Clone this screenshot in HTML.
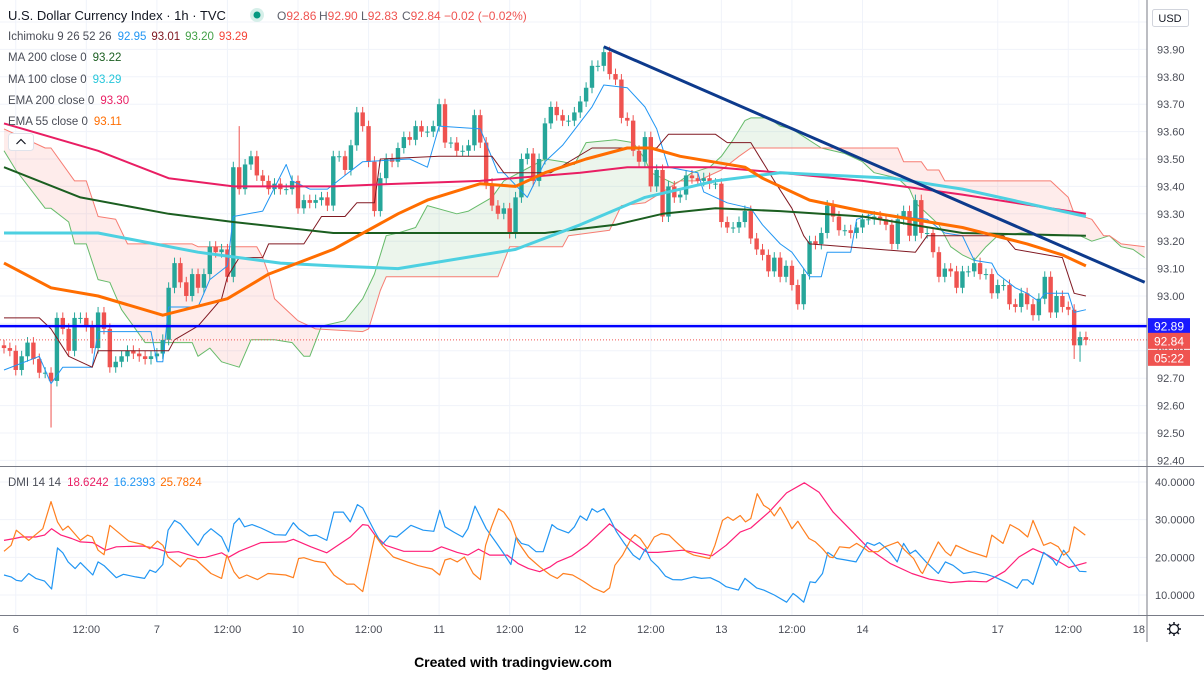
<!DOCTYPE html>
<html><head><meta charset="utf-8"><title>DXY 1h chart</title>
<style>
html,body{margin:0;padding:0;background:#fff;}
svg{display:block;font-family:"Liberation Sans",sans-serif;}
</style></head>
<body>
<svg id="chart" width="1204" height="690" viewBox="0 0 1204 690" xmlns="http://www.w3.org/2000/svg">
<defs>
<clipPath id="mainClip"><rect x="0" y="0" width="1147" height="466"/></clipPath>
<clipPath id="dmiClip"><rect x="0" y="467" width="1147" height="148"/></clipPath>
<clipPath id="aboveB"><path id="aboveBPath"/></clipPath>
<clipPath id="aboveA"><path id="aboveAPath"/></clipPath>
</defs>
<rect x="0" y="0" width="1204" height="690" fill="#ffffff"/>
<g id="grid"></g>
<g id="main" clip-path="url(#mainClip)"></g>
<g id="dmi" clip-path="url(#dmiClip)"></g>
<g id="axes"></g>

<!-- legends -->
<g font-size="13">
  <text x="8" y="20" fill="#131722">U.S. Dollar Currency Index · 1h · TVC</text>
  <circle cx="257" cy="15" r="7" fill="#d6efe9"/>
  <circle cx="257" cy="15" r="3.5" fill="#089981"/>
  <text y="20" font-size="12" fill="#5d606b"><tspan x="277">O</tspan><tspan fill="#ef5350">92.86</tspan><tspan x="319">H</tspan><tspan fill="#ef5350">92.90</tspan><tspan x="361">L</tspan><tspan fill="#ef5350">92.83</tspan><tspan x="402">C</tspan><tspan fill="#ef5350">92.84 −0.02 (−0.02%)</tspan></text>
</g>
<g font-size="11.5" fill="#4a4d57">
  <text x="8" y="40">Ichimoku 9 26 52 26<tspan dx="6" fill="#2196f3">92.95</tspan><tspan dx="5" fill="#801922">93.01</tspan><tspan dx="5" fill="#43a047">93.20</tspan><tspan dx="5" fill="#f44336">93.29</tspan></text>
  <text x="8" y="61">MA 200 close 0<tspan dx="6" fill="#1b5e20">93.22</tspan></text>
  <text x="8" y="83">MA 100 close 0<tspan dx="6" fill="#26c6da">93.29</tspan></text>
  <text x="8" y="104">EMA 200 close 0<tspan dx="6" fill="#e91e63">93.30</tspan></text>
  <text x="8" y="125">EMA 55 close 0<tspan dx="6" fill="#ff6d00">93.11</tspan></text>
  <g>
    <rect x="8.5" y="133.5" width="25" height="17" rx="3" fill="#ffffff" stroke="#e0e3eb"/>
    <path d="M16.5 144 L21 139.5 L25.5 144" fill="none" stroke="#131722" stroke-width="1.2"/>
  </g>
  <text x="8" y="486">DMI 14 14<tspan dx="6" fill="#e91e63">18.6242</tspan><tspan dx="5" fill="#2196f3">16.2393</tspan><tspan dx="5" fill="#ff6d00">25.7824</tspan></text>
</g>
<text x="513" y="667" text-anchor="middle" font-size="14" font-weight="bold" fill="#000">Created with tradingview.com</text>

<script>
// ---------- data ----------
const closes = [92.81,92.80,92.73,92.78,92.83,92.77,92.72,92.72,92.69,92.92,92.88,92.80,92.92,92.92,92.89,92.81,92.94,92.88,92.74,92.76,92.78,92.80,92.79,92.78,92.77,92.78,92.79,92.84,93.03,93.12,93.05,93.00,93.08,93.03,93.08,93.18,93.16,93.17,93.07,93.47,93.39,93.48,93.51,93.44,93.42,93.39,93.41,93.39,93.39,93.42,93.32,93.35,93.34,93.35,93.36,93.33,93.51,93.51,93.46,93.55,93.67,93.62,93.49,93.31,93.43,93.50,93.49,93.54,93.58,93.57,93.62,93.60,93.60,93.62,93.70,93.56,93.56,93.53,93.53,93.55,93.66,93.56,93.41,93.33,93.30,93.32,93.23,93.36,93.50,93.52,93.42,93.50,93.63,93.69,93.66,93.64,93.64,93.67,93.71,93.76,93.84,93.84,93.89,93.81,93.79,93.65,93.64,93.53,93.49,93.58,93.40,93.46,93.29,93.40,93.36,93.37,93.44,93.43,93.42,93.43,93.41,93.41,93.27,93.25,93.25,93.27,93.31,93.21,93.17,93.15,93.09,93.14,93.07,93.11,93.04,92.97,93.08,93.20,93.19,93.23,93.33,93.29,93.24,93.24,93.23,93.25,93.28,93.28,93.29,93.28,93.26,93.19,93.28,93.31,93.22,93.35,93.23,93.23,93.16,93.07,93.10,93.09,93.03,93.09,93.09,93.12,93.08,93.08,93.01,93.04,93.04,92.97,92.96,93.01,92.97,92.93,92.99,93.07,92.94,93.00,92.96,92.95,92.82,92.85,92.84];
const firstOpen = 92.82;
const highOverrideIdx = [40];
const highOverrideVal = [93.62];
const lowOverrideIdx = [8, 182, 183];
const lowOverrideVal = [92.52, 92.77, 92.76];

const ema200Idx = [0,16,28,39,56,67,81,98,106,121,132,146,163,184];
const ema200Val = [93.63,93.53,93.43,93.40,93.40,93.41,93.42,93.45,93.47,93.47,93.45,93.42,93.37,93.30];
const ma200Idx = [0,13,28,39,56,67,92,104,112,121,132,146,163,184];
const ma200Val = [93.47,93.36,93.30,93.27,93.23,93.23,93.23,93.26,93.30,93.32,93.31,93.29,93.23,93.22];
const ma100Idx = [0,16,33,47,56,67,87,98,109,121,132,151,163,184];
const ma100Val = [93.23,93.23,93.16,93.12,93.11,93.10,93.17,93.26,93.36,93.42,93.45,93.43,93.39,93.29];
const ema55Idx = [0,8,16,27,38,45,56,67,72,81,87,92,99,106,110,115,126,129,137,146,163,174,180,184];
const ema55Val = [93.12,93.03,93.00,92.93,92.99,93.08,93.17,93.30,93.35,93.41,93.40,93.45,93.50,93.54,93.54,93.51,93.47,93.43,93.35,93.31,93.25,93.19,93.15,93.11];

const tenkanIdx = [0,6,8,10,15,16,25,26,27,28,33,35,38,39,44,48,49,52,55,58,61,69,72,74,81,84,85,89,92,95,100,102,106,109,111,113,118,119,123,127,129,132,134,137,139,140,144,145,148,157,160,163,165,168,169,172,174,176,177,181,182,184];
const tenkanVal = [92.73,92.78,92.68,92.74,92.74,92.87,92.87,92.76,92.76,92.96,92.96,93.06,93.11,93.29,93.31,93.48,93.42,93.39,93.39,93.44,93.49,93.50,93.47,93.62,93.61,93.45,93.45,93.36,93.49,93.55,93.69,93.77,93.76,93.69,93.61,93.47,93.45,93.38,93.34,93.32,93.26,93.19,93.16,93.07,93.07,93.16,93.16,93.28,93.30,93.28,93.23,93.22,93.13,93.12,93.08,93.03,93.01,92.98,93.01,93.01,92.94,92.95];
const kijunIdx = [0,6,8,11,15,16,28,29,33,35,37,38,40,44,45,51,54,58,60,63,64,74,83,85,93,100,111,113,121,123,127,131,134,136,137,155,157,170,172,180,182,184];
const kijunVal = [92.92,92.92,92.88,92.78,92.74,92.80,92.80,92.84,92.89,92.94,92.99,93.07,93.14,93.14,93.19,93.19,93.29,93.29,93.34,93.34,93.50,93.51,93.51,93.45,93.45,93.54,93.54,93.59,93.59,93.56,93.56,93.42,93.32,93.22,93.19,93.16,93.22,93.22,93.17,93.14,93.01,93.00];
const spanAIdx = [0,2,7,8,11,12,14,16,18,20,22,24,32,33,35,37,40,42,46,49,51,52,54,58,61,63,65,67,70,72,77,79,83,85,92,95,97,99,104,107,109,110,112,114,115,117,120,122,124,126,127,130,132,134,139,143,146,148,152,154,155,157,159,161,163,165,167,169,173,178,183,185,188,190,192,194];
const spanAVal = [93.53,93.46,93.32,93.32,93.27,93.19,93.19,93.06,93.05,92.95,92.89,92.83,92.83,92.78,92.81,92.76,92.74,92.84,92.84,92.83,92.78,92.78,92.89,92.91,92.99,93.08,93.22,93.23,93.25,93.33,93.30,93.31,93.36,93.42,93.50,93.49,93.48,93.56,93.57,93.56,93.50,93.45,93.43,93.41,93.42,93.45,93.47,93.51,93.57,93.64,93.65,93.65,93.62,93.61,93.54,93.52,93.49,93.45,93.43,93.39,93.34,93.30,93.26,93.18,93.15,93.13,93.18,93.22,93.23,93.22,93.22,93.20,93.22,93.18,93.17,93.14];
const spanBIdx = [0,7,8,12,14,16,19,21,32,33,43,44,45,46,50,53,61,62,64,65,84,86,95,96,103,105,109,112,115,118,122,125,127,152,153,156,157,159,160,178,181,182,185,187,188,190,194];
const spanBVal = [93.61,93.54,93.54,93.42,93.42,93.29,93.28,93.19,93.19,93.18,93.18,93.14,93.08,92.99,92.91,92.88,92.87,92.88,93.02,93.07,93.07,93.18,93.18,93.22,93.24,93.33,93.34,93.38,93.42,93.42,93.46,93.51,93.54,93.54,93.49,93.49,93.46,93.46,93.42,93.42,93.36,93.30,93.28,93.22,93.22,93.19,93.18];

const trendIdx = [102, 194];
const trendVal = [93.91, 93.05];
const hLevel = 92.89;
const lastPrice = 92.84;
const countdown = "05:22";

const priceTicks = [94.00,93.90,93.80,93.70,93.60,93.50,93.40,93.30,93.20,93.10,93.00,92.90,92.80,92.70,92.60,92.50,92.40];
const dmiTicks = [40,30,20,10];
const timeIdx = [2,14,26,38,50,62,74,86,98,110,122,134,146,169,181,193];
const timeLabels = ["6","12:00","7","12:00","10","12:00","11","12:00","12","12:00","13","12:00","14","17","12:00","18"];

const adxIdx = [0,1.8,3.0,5.4,6.9,8.1,9.7,11.5,13.0,15.1,17.3,19.1,23.6,26.1,27.9,29.7,33.0,34.3,37.0,38.2,40.0,43.7,47.9,49.2,52.2,54.9,58.9,61.0,61.9,63.1,64.9,68.0,72.8,74.4,77.1,78.9,80.7,82.6,85.6,87.4,89.2,91.1,92.9,94.1,96.6,99.1,103.0,105.8,109.4,111.2,115.5,120.4,122.8,125.2,127.0,130.1,133.1,136.1,138.6,141.0,144.6,147.1,150.7,154.4,157.4,161.0,164.1,167.1,170.2,172.6,175.0,177.5,181.1,184.1];
const adxVal = [24.5,25.0,25.4,25.4,25.9,27.6,25.9,25.0,24.1,23.9,21.9,22.8,23.0,22.3,21.3,21.5,19.9,20.0,21.2,20.0,21.6,23.9,24.1,24.8,22.8,21.2,25.4,28.7,28.5,25.9,23.2,21.6,21.6,22.8,21.3,20.6,22.2,20.6,20.6,18.4,17.0,16.2,17.5,18.8,20.4,23.2,28.9,25.4,21.3,21.3,21.9,20.4,23.2,26.7,27.8,32.0,37.1,39.8,37.3,32.0,26.3,22.3,18.4,15.7,14.2,13.3,13.7,13.5,16.3,20.1,22.3,20.6,17.3,18.6];
const plusDiIdx = [0,1.2,2.1,3.0,4.2,5.4,6.9,8.1,9.1,10.0,10.9,12.1,13.0,15.1,16.0,17.0,19.1,20.3,22.4,23.9,24.8,25.8,27.0,27.9,29.0,30.0,33.0,34.0,35.2,37.0,38.2,39.1,40.0,40.9,42.2,43.7,46.1,47.9,49.2,50.1,51.9,53.1,54.9,56.1,57.7,58.9,60.1,61.0,61.9,63.1,64.3,65.6,66.8,69.2,71.3,73.1,74.1,75.0,76.5,78.0,78.9,80.1,82.0,83.8,85.0,86.2,87.1,88.0,89.2,90.5,91.7,93.2,94.1,96.0,97.0,98.0,99.1,100.0,100.9,102.0,103.0,104.2,105.5,107.0,108.1,109.1,110.0,111.2,112.5,113.7,115.2,117.3,118.6,120.1,121.6,122.8,124.9,126.0,128.0,129.2,131.0,133.1,134.2,134.9,136.0,137.1,138.0,139.2,140.1,141.6,142.8,144.9,146.8,148.0,148.9,150.4,151.9,153.0,154.1,155.0,156.8,158.9,160.1,161.4,163.2,165.0,167.1,168.6,170.8,172.3,173.2,174.1,175.0,176.8,178.4,179.0,180.2,181.7,182.9,184.1];
const plusDiVal = [15.3,14.8,13.9,13.7,15.7,14.4,13.7,11.6,22.5,21.2,18.8,17.0,18.6,15.3,18.8,17.8,14.6,15.5,14.8,14.4,16.6,16.0,18.1,27.2,29.8,28.9,23.2,25.9,27.6,25.4,21.5,28.9,30.4,28.1,28.7,27.8,26.0,25.9,29.2,27.6,25.7,25.9,24.5,32.0,32.0,29.4,34.0,33.1,30.3,26.7,23.4,25.7,25.4,28.5,27.2,26.9,32.5,28.1,26.7,25.4,27.6,33.6,27.6,23.7,21.0,18.1,25.4,23.7,23.2,21.5,21.5,28.7,27.6,26.5,28.1,31.0,29.8,32.9,32.0,32.9,30.4,26.7,23.7,20.6,19.4,22.3,19.3,17.5,15.0,14.1,14.0,14.8,14.4,14.6,13.5,12.2,11.3,14.4,11.9,11.3,10.0,8.1,10.4,9.6,8.1,13.5,13.3,15.7,21.3,19.7,19.4,18.8,23.9,23.2,23.9,21.9,18.8,23.7,21.0,21.9,18.8,15.7,18.8,17.9,15.7,16.2,15.5,14.7,13.1,11.8,14.0,14.0,12.8,21.3,19.3,17.9,21.9,18.8,16.3,16.2];
const minusDiIdx = [0,1.2,2.1,4.2,6.6,8.0,9.1,10.0,10.9,13.0,14.2,15.0,16.0,17.0,18.0,21.2,23.6,24.8,26.1,27.0,27.9,30.0,31.2,32.7,35.2,37.0,37.9,39.1,40.0,41.3,43.1,44.9,47.9,49.2,50.1,51.0,52.8,54.6,56.1,58.3,59.5,61.0,63.1,64.3,66.2,68.6,70.4,72.8,74.1,75.0,75.9,77.1,78.3,79.8,81.0,81.9,82.9,84.1,85.0,86.2,87.4,89.2,91.1,92.9,94.1,95.1,96.7,98.5,100.3,102.0,103.0,103.9,105.2,106.7,107.3,108.2,109.4,110.6,111.8,113.1,114.3,116.1,117.3,120.0,120.9,122.2,123.1,124.0,125.2,126.1,127.0,128.1,129.2,130.1,131.0,132.0,133.1,134.0,135.0,135.8,136.9,138.0,139.2,140.4,141.0,142.1,143.8,145.0,146.2,147.1,148.6,149.8,152.0,153.2,154.7,155.9,156.2,158.9,160.1,161.0,161.9,164.1,167.1,168.0,169.9,171.1,172.6,174.1,175.0,176.2,176.8,178.0,179.3,180.2,181.1,182.0,183.9];
const minusDiVal = [21.6,23.2,27.2,24.5,27.6,34.8,29.4,27.2,28.3,24.5,25.9,25.4,21.9,20.7,28.5,24.3,23.4,22.3,24.3,23.2,20.1,17.5,19.7,19.3,15.7,14.4,20.6,16.2,14.4,15.3,14.1,15.7,15.3,14.6,19.7,19.9,19.0,18.6,15.3,12.9,12.9,10.9,25.9,23.2,20.1,18.8,17.8,16.9,15.3,19.3,19.7,18.8,20.1,15.7,14.1,23.2,28.1,32.9,32.0,29.4,24.1,20.1,17.5,15.3,14.4,15.7,15.3,13.7,11.8,10.7,11.9,17.9,20.6,25.0,26.0,25.0,22.3,25.4,26.3,25.9,24.1,21.5,20.6,19.7,23.2,29.8,30.7,29.8,31.1,29.4,30.3,36.9,33.8,32.9,31.0,33.3,30.3,27.6,29.6,27.6,25.0,24.1,22.3,20.1,19.9,22.8,22.5,23.7,22.5,21.5,21.5,22.8,24.1,21.9,19.7,16.2,15.7,24.1,21.5,20.4,23.2,21.6,20.1,25.9,23.7,28.7,27.4,25.4,29.8,25.4,23.2,23.9,22.8,20.6,21.6,28.1,25.9];

// ---------- scales ----------
const X = i => 4 + i * 5.88;
const Y = p => 296 - (p - 93) * 274;
const YD = v => 482 + (40 - v) * 3.767;
const NS = "http://www.w3.org/2000/svg";
function mk(tag, attrs, parent) {
  const el = document.createElementNS(NS, tag);
  for (const k in attrs) el.setAttribute(k, attrs[k]);
  parent.appendChild(el);
  return el;
}
function pts(idx, val, yf) { return idx.map((d, k) => X(d).toFixed(1) + "," + yf(val[k]).toFixed(1)); }

const grid = document.getElementById("grid");
const main = document.getElementById("main");
const dmi = document.getElementById("dmi");
const axes = document.getElementById("axes");

priceTicks.forEach(p => {
  const l = mk("line", {x1: 0, x2: 1147, y1: Y(p), y2: Y(p), stroke: "#f0f3fa", "stroke-width": 1}, grid);
  
  
});
dmiTicks.forEach(v => {
  const l = mk("line", {x1: 0, x2: 1147, y1: YD(v), y2: YD(v), stroke: "#f0f3fa", "stroke-width": 1}, grid);
  
  
});
timeIdx.forEach(i => {
  const l = mk("line", {x1: X(i), x2: X(i), y1: 0, y2: 615, stroke: "#f0f3fa", "stroke-width": 1}, grid);
  
  
});

function closedPath(idx, val, toY) {
  const p = pts(idx, val, Y);
  return "M" + X(idx[0]).toFixed(1) + "," + toY + " L" + p.join(" L") + " L" + X(idx[idx.length - 1]).toFixed(1) + "," + toY + " Z";
}
document.getElementById("aboveBPath").setAttribute("d", closedPath(spanBIdx, spanBVal, -10));
document.getElementById("aboveAPath").setAttribute("d", closedPath(spanAIdx, spanAVal, -10));
const greenCloud = mk("path", {d: closedPath(spanAIdx, spanAVal, 480), fill: "rgba(67,160,71,0.10)", "clip-path": "url(#aboveB)"}, main);


const redCloud = mk("path", {d: closedPath(spanBIdx, spanBVal, 480), fill: "rgba(244,67,54,0.10)", "clip-path": "url(#aboveA)"}, main);



function line(parent, idx, val, yf, color, w, name) {
  const el = mk("polyline", {points: pts(idx, val, yf).join(" "), fill: "none", stroke: color, "stroke-width": w, "stroke-linejoin": "round"}, parent);
  
  
  return el;
}
line(main, spanAIdx, spanAVal, Y, "#66bb6a", 1, "ichimoku-span-a");
line(main, spanBIdx, spanBVal, Y, "#f77c72", 1, "ichimoku-span-b");

let prev = firstOpen;
closes.forEach((c, i) => {
  const o = prev; prev = c;
  let hi = Math.max(o, c) + 0.02, lo = Math.min(o, c) - 0.02;
  const hk = highOverrideIdx.indexOf(i); if (hk >= 0) hi = highOverrideVal[hk];
  const lk = lowOverrideIdx.indexOf(i); if (lk >= 0) lo = lowOverrideVal[lk];
  const col = c >= o ? "#26a69a" : "#ef5350";
  const g = mk("g", {}, main);
  
  
  mk("line", {x1: X(i), x2: X(i), y1: Y(hi), y2: Y(lo), stroke: col, "stroke-width": 1}, g);
  const top = Y(Math.max(o, c)), h = Math.max(1, Y(Math.min(o, c)) - top);
  mk("rect", {x: X(i) - 2.2, y: top, width: 4.4, height: h, fill: col}, g);
});

line(main, tenkanIdx, tenkanVal, Y, "#2196f3", 1, "ichimoku-conversion-line");
line(main, kijunIdx, kijunVal, Y, "#801922", 1, "ichimoku-base-line");
line(main, ma200Idx, ma200Val, Y, "#1b5e20", 2, "ma200-line");
line(main, ema200Idx, ema200Val, Y, "#e91e63", 2, "ema200-line");
line(main, ma100Idx, ma100Val, Y, "#4dd0e1", 3, "ma100-line");
line(main, ema55Idx, ema55Val, Y, "#ff6d00", 3, "ema55-line");
line(main, trendIdx, trendVal, Y, "#0d3a8c", 3, "downtrend-line");

const hl = mk("line", {x1: 0, x2: 1147, y1: Y(hLevel), y2: Y(hLevel), stroke: "#0000ff", "stroke-width": 2.5}, main);


const lp = mk("line", {x1: 0, x2: 1147, y1: Y(lastPrice), y2: Y(lastPrice), stroke: "#ef5350", "stroke-width": 1, "stroke-dasharray": "1,2"}, main);



line(dmi, adxIdx, adxVal, YD, "#ff1f78", 1.2, "adx-line");
line(dmi, plusDiIdx, plusDiVal, YD, "#2196f3", 1.2, "plus-di-line");
line(dmi, minusDiIdx, minusDiVal, YD, "#ff7f1f", 1.2, "minus-di-line");

[[1147, 0, 1147, 642], [0, 466.5, 1147, 466.5], [0, 615.5, 1204, 615.5], [1147, 466.5, 1204, 466.5]].forEach(s => {
  const l = mk("line", {x1: s[0], y1: s[1], x2: s[2], y2: s[3], stroke: "#787b86", "stroke-width": 1}, axes);
  
  
});
priceTicks.forEach(p => {
  const t = mk("text", {x: 1157, y: Y(p) + 4, "font-size": 11, fill: "#4a4d57"}, axes);
  t.textContent = p.toFixed(2);
  
  
});
dmiTicks.forEach(v => {
  const t = mk("text", {x: 1155, y: YD(v) + 4, "font-size": 11, fill: "#4a4d57"}, axes);
  t.textContent = v.toFixed(4);
  
  
});
timeIdx.forEach((i, k) => {
  const t = mk("text", {x: X(i), y: 633, "font-size": 11, fill: "#4a4d57", "text-anchor": "middle"}, axes);
  t.textContent = timeLabels[k];
  
  
});
const usd = mk("rect", {x: 1152.5, y: 9.5, width: 36, height: 17, rx: 2, fill: "#fff", stroke: "#d1d4dc"}, axes);


const usdT = mk("text", {x: 1170, y: 22, "font-size": 11, fill: "#131722", "text-anchor": "middle"}, axes);
usdT.textContent = "USD";


function tag(y, h, bg, txt, name) {
  const r = mk("rect", {x: 1148, y: y, width: 42, height: h, fill: bg}, axes);
  
  
  const t = mk("text", {x: 1169, y: y + h / 2 + 4.5, "font-size": 12, fill: "#fff", "text-anchor": "middle"}, axes);
  t.textContent = txt;
  
  
}
tag(Y(hLevel) - 8, 16, "#1a1aff", hLevel.toFixed(2), "support-price-label");
tag(Y(lastPrice) - 7, 16, "#ef5350", lastPrice.toFixed(2), "last-price-label");
tag(Y(lastPrice) + 10, 16, "#ef5350", countdown, "bar-countdown-label");
const gear = mk("g", {}, axes);


mk("circle", {cx: 1174, cy: 629, r: 4.5, fill: "none", stroke: "#131722", "stroke-width": 1.3}, gear);
for (let a = 0; a < 8; a++) {
  const ang = a * Math.PI / 4;
  mk("line", {x1: 1174 + 4.5 * Math.cos(ang), y1: 629 + 4.5 * Math.sin(ang), x2: 1174 + 7 * Math.cos(ang), y2: 629 + 7 * Math.sin(ang), stroke: "#131722", "stroke-width": 1.5}, gear);
}
</script>
</svg>
</body></html>
